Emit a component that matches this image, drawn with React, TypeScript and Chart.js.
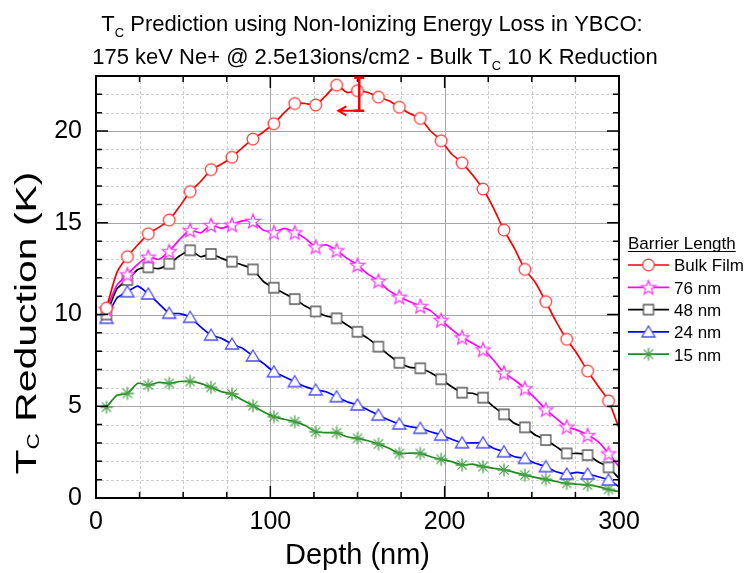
import { useEffect, useRef } from 'react';
import { Chart, registerables } from 'chart.js';

Chart.register(...registerables);

// ---------- data ----------
const DEPTH_NM = [6, 12, 18, 24, 30, 36, 42, 48, 54, 60, 66, 72, 78, 84, 90, 96, 102, 108, 114, 120, 126, 132, 138, 144, 150, 156, 162, 168, 174, 180, 186, 192, 198, 204, 210, 216, 222, 228, 234, 240, 246, 252, 258, 264, 270, 276, 282, 288, 294, 300];

const BULK_FILM = [10.35, 12.3, 13.15, 13.8, 14.4, 14.75, 15.15, 15.9, 16.7, 17.25, 17.9, 18.2, 18.57, 19.1, 19.56, 19.95, 20.4, 21.0, 21.5, 21.5, 21.42, 21.95, 22.5, 22.1, 22.2, 22.1, 21.85, 21.65, 21.3, 20.95, 20.69, 20.0, 19.47, 18.75, 18.27, 17.6, 16.84, 15.8, 14.6, 13.6, 12.46, 11.75, 10.7, 9.6, 8.65, 7.85, 6.92, 6.1, 5.29, 3.8];
const BARRIER_76 = [10.3, 11.6, 12.19, 12.75, 13.15, 13.0, 13.45, 14.1, 14.6, 14.45, 14.88, 14.7, 14.9, 15.1, 15.1, 14.6, 14.48, 14.7, 14.48, 14.15, 13.7, 13.8, 13.5, 13.06, 12.7, 12.2, 11.84, 11.3, 10.97, 10.7, 10.46, 10.2, 9.7, 9.19, 8.76, 8.43, 8.1, 7.52, 6.83, 6.43, 5.98, 5.43, 4.83, 4.34, 3.89, 3.7, 3.43, 3.07, 2.43, 1.7];
const BARRIER_48 = [10.0, 11.4, 11.88, 12.45, 12.57, 12.5, 12.77, 13.2, 13.5, 13.15, 13.3, 13.06, 12.88, 12.7, 12.46, 11.8, 11.46, 11.15, 10.84, 10.46, 10.17, 9.92, 9.79, 9.43, 9.06, 8.7, 8.25, 7.79, 7.37, 7.12, 7.07, 6.83, 6.47, 6.07, 5.74, 5.71, 5.47, 4.98, 4.56, 4.07, 3.85, 3.43, 3.16, 2.8, 2.43, 2.43, 2.34, 1.98, 1.67, 1.07];
const BARRIER_24 = [9.8, 10.9, 11.24, 11.55, 11.12, 10.6, 10.07, 10.05, 9.85, 9.33, 8.88, 8.7, 8.39, 8.16, 7.74, 7.34, 6.88, 6.61, 6.34, 6.07, 5.89, 5.79, 5.52, 5.25, 5.07, 4.8, 4.52, 4.25, 4.03, 3.89, 3.8, 3.61, 3.43, 3.2, 3.01, 3.0, 3.01, 2.71, 2.52, 2.25, 2.16, 1.89, 1.71, 1.43, 1.31, 1.4, 1.31, 1.16, 0.98, 0.62];
const BARRIER_15 = [4.95, 5.6, 5.7, 6.25, 6.15, 6.3, 6.25, 6.35, 6.35, 6.25, 6.03, 5.79, 5.67, 5.34, 5.03, 4.7, 4.43, 4.29, 4.16, 3.95, 3.61, 3.56, 3.56, 3.34, 3.25, 3.12, 2.94, 2.71, 2.43, 2.45, 2.43, 2.25, 2.11, 1.98, 1.8, 1.85, 1.71, 1.62, 1.53, 1.4, 1.25, 1.12, 1.02, 0.9, 0.8, 0.75, 0.71, 0.62, 0.47, 0.34];

const SERIES_LABELS = ['Bulk Film', '76 nm', '48 nm', '24 nm', '15 nm'];
const LEGEND_TITLE = 'Barrier Length';
const X_TICKS = [0, 100, 200, 300];
const Y_TICKS = [0, 5, 10, 15, 20];
const X_MIN = 0;
const X_MAX = 300;
const Y_MIN = 0;
const Y_MAX = 23;
const X_TITLE = 'Depth (nm)';
const Y_TITLE = [{ text: 'T' }, { text: 'C', sub: true }, { text: ' Reduction (K)' }];
const TITLE_LINE_1 = [{ text: 'T' }, { text: 'C', sub: true }, { text: ' Prediction using Non-Ionizing Energy Loss in YBCO:' }];
const TITLE_LINE_2 = [{ text: '175 keV Ne+ @ 2.5e13ions/cm2 - Bulk T' }, { text: 'C', sub: true }, { text: ' 10 K Reduction' }];

// error bar annotation (data units)
const ERRBAR_DEPTH = 151;
const ERRBAR_LOW = 21.1;
const ERRBAR_HIGH = 22.9;
const ARROW_TO_DEPTH = 139;

// ---------- styles ----------
const FONT = '"Liberation Sans", Arial, Helvetica, sans-serif';
const STYLES = [
  { line: '#ff0000', marker: 'circle', edge: '#ff3a3a' },
  { line: '#ff00ff', marker: 'star', edge: '#ff3cff' },
  { line: '#000000', marker: 'square', edge: '#555555' },
  { line: '#0000ff', marker: 'triangle', edge: '#4a4aff' },
  { line: '#1f8a1f', marker: 'asterisk', edge: '#4aa04a' },
];

type Seg = { text: string; sub?: boolean };

function makeMarker(kind: string, stroke: string): HTMLCanvasElement {
  const c = document.createElement('canvas');
  const s = 18;
  c.width = s;
  c.height = s;
  const g = c.getContext('2d')!;
  g.translate(s / 2, s / 2);
  g.lineWidth = 1.3;
  g.strokeStyle = stroke;
  g.fillStyle = '#ffffff';
  g.beginPath();
  if (kind === 'circle') {
    g.arc(0, 0, 5.8, 0, Math.PI * 2);
  } else if (kind === 'star') {
    for (let i = 0; i < 10; i++) {
      const r = i % 2 === 0 ? 7.4 : 3.2;
      const a = -Math.PI / 2 + (i * Math.PI) / 5;
      const px = r * Math.cos(a);
      const py = r * Math.sin(a) + 0.7;
      if (i === 0) g.moveTo(px, py);
      else g.lineTo(px, py);
    }
    g.closePath();
  } else if (kind === 'square') {
    g.rect(-5, -5, 10, 10);
  } else if (kind === 'triangle') {
    g.moveTo(0, -6);
    g.lineTo(6.6, 5);
    g.lineTo(-6.6, 5);
    g.closePath();
  } else if (kind === 'asterisk') {
    for (let k = 0; k < 4; k++) {
      const a = (k * Math.PI) / 4;
      g.moveTo(-6.5 * Math.cos(a), -6.5 * Math.sin(a));
      g.lineTo(6.5 * Math.cos(a), 6.5 * Math.sin(a));
    }
    g.stroke();
    return c;
  }
  g.fill();
  g.stroke();
  return c;
}

function drawRich(ctx: CanvasRenderingContext2D, segs: Seg[], x: number, y: number, size: number, subSize: number, subDy: number) {
  const widths = segs.map((s) => {
    ctx.font = `${s.sub ? subSize : size}px ${FONT}`;
    return ctx.measureText(s.text).width;
  });
  const total = widths.reduce((a, b) => a + b, 0);
  let cx = x - total / 2;
  ctx.textAlign = 'left';
  ctx.textBaseline = 'alphabetic';
  segs.forEach((s, i) => {
    ctx.font = `${s.sub ? subSize : size}px ${FONT}`;
    ctx.fillText(s.text, cx, s.sub ? y + subDy : y);
    cx += widths[i];
  });
  return total;
}

export default function App() {
  const ref = useRef<HTMLCanvasElement>(null);

  useEffect(() => {
    const markers = STYLES.map((s) => makeMarker(s.marker, s.edge));
    const seriesValues = [BULK_FILM, BARRIER_76, BARRIER_48, BARRIER_24, BARRIER_15];

    const decorPlugin = {
      id: 'decor',
      beforeDatasetsDraw(chart: any) {
        const { ctx, chartArea: a, scales } = chart;
        const xs = scales.x;
        const ys = scales.y;
        ctx.save();
        ctx.strokeStyle = '#cfcfcf';
        ctx.lineWidth = 1;
        ctx.setLineDash([3, 2]);
        for (let v = X_MIN; v <= X_MAX; v += 25) {
          if (v % 100 === 0) continue;
          const px = Math.round(xs.getPixelForValue(v)) + 0.5;
          ctx.beginPath();
          ctx.moveTo(px, a.top);
          ctx.lineTo(px, a.bottom);
          ctx.stroke();
        }
        for (let v = Y_MIN; v <= Y_MAX; v += 1) {
          if (v % 5 === 0) continue;
          const py = Math.round(ys.getPixelForValue(v)) + 0.5;
          ctx.beginPath();
          ctx.moveTo(a.left, py);
          ctx.lineTo(a.right, py);
          ctx.stroke();
        }
        ctx.setLineDash([]);
        ctx.strokeStyle = '#a6a6a6';
        X_TICKS.forEach((v) => {
          const px = Math.round(xs.getPixelForValue(v)) + 0.5;
          ctx.beginPath();
          ctx.moveTo(px, a.top);
          ctx.lineTo(px, a.bottom);
          ctx.stroke();
        });
        Y_TICKS.forEach((v) => {
          const py = Math.round(ys.getPixelForValue(v)) + 0.5;
          ctx.beginPath();
          ctx.moveTo(a.left, py);
          ctx.lineTo(a.right, py);
          ctx.stroke();
        });
        ctx.restore();
      },
      afterDraw(chart: any) {
        const { ctx, chartArea: a, scales } = chart;
        const xs = scales.x;
        const ys = scales.y;
        ctx.save();
        ctx.strokeStyle = '#000';
        ctx.lineWidth = 2;
        ctx.strokeRect(a.left, a.top, a.right - a.left, a.bottom - a.top);
        ctx.lineWidth = 1.5;
        for (let v = X_MIN; v <= X_MAX; v += 25) {
          const len = v % 100 === 0 ? 12 : 6;
          const px = xs.getPixelForValue(v);
          ctx.beginPath();
          ctx.moveTo(px, a.bottom);
          ctx.lineTo(px, a.bottom - len);
          ctx.moveTo(px, a.top);
          ctx.lineTo(px, a.top + len);
          ctx.stroke();
        }
        for (let v = Y_MIN; v <= Y_MAX; v += 1) {
          const len = v % 5 === 0 ? 12 : 6;
          const py = ys.getPixelForValue(v);
          ctx.beginPath();
          ctx.moveTo(a.left, py);
          ctx.lineTo(a.left + len, py);
          ctx.moveTo(a.right, py);
          ctx.lineTo(a.right - len, py);
          ctx.stroke();
        }
        // error bar with arrow
        ctx.strokeStyle = '#ff0000';
        ctx.lineWidth = 2.5;
        const ex = xs.getPixelForValue(ERRBAR_DEPTH);
        const eyl = ys.getPixelForValue(ERRBAR_LOW);
        const eyh = ys.getPixelForValue(ERRBAR_HIGH);
        ctx.beginPath();
        ctx.moveTo(ex, eyl);
        ctx.lineTo(ex, eyh);
        ctx.moveTo(ex - 5, eyl);
        ctx.lineTo(ex + 5, eyl);
        ctx.moveTo(ex - 5, eyh);
        ctx.lineTo(ex + 5, eyh);
        ctx.stroke();
        const ax = xs.getPixelForValue(ARROW_TO_DEPTH);
        ctx.lineWidth = 2;
        ctx.beginPath();
        ctx.moveTo(ex, eyl);
        ctx.lineTo(ax, eyl);
        ctx.moveTo(ax + 8, eyl - 4.5);
        ctx.lineTo(ax, eyl);
        ctx.lineTo(ax + 8, eyl + 4.5);
        ctx.stroke();

        // titles
        ctx.fillStyle = '#000';
        drawRich(ctx, TITLE_LINE_1, 372, 31, 22, 13, 6);
        drawRich(ctx, TITLE_LINE_2, 375, 64, 22, 13, 6);
        ctx.font = `29px ${FONT}`;
        ctx.textAlign = 'center';
        ctx.textBaseline = 'alphabetic';
        ctx.fillText(X_TITLE, (a.left + a.right) / 2, 564);

        ctx.save();
        ctx.translate(36, 323);
        ctx.rotate(-Math.PI / 2);
        let w = 0;
        Y_TITLE.forEach((s) => {
          ctx.font = `${s.sub ? 16 : 29}px ${FONT}`;
          w += ctx.measureText(s.text).width;
        });
        ctx.scale(303 / w, 1);
        drawRich(ctx, Y_TITLE, 0, 0, 29, 16, 3);
        ctx.restore();

        // legend
        const lx0 = 628;
        const lx1 = 669;
        ctx.font = `17px ${FONT}`;
        ctx.textAlign = 'left';
        ctx.textBaseline = 'alphabetic';
        ctx.fillStyle = '#000';
        ctx.fillText(LEGEND_TITLE, lx0, 249);
        const tw = ctx.measureText(LEGEND_TITLE).width;
        ctx.strokeStyle = '#000';
        ctx.lineWidth = 1;
        ctx.beginPath();
        ctx.moveTo(lx0, 251.5);
        ctx.lineTo(lx0 + tw, 251.5);
        ctx.stroke();
        SERIES_LABELS.forEach((lab, i) => {
          const cy = 265 + i * 22.3;
          ctx.strokeStyle = STYLES[i].line;
          ctx.lineWidth = 1.7;
          ctx.beginPath();
          ctx.moveTo(lx0, cy);
          ctx.lineTo(lx1, cy);
          ctx.stroke();
          const m = markers[i];
          ctx.drawImage(m, 648.5 - m.width / 2, cy - m.height / 2);
          ctx.fillStyle = '#000';
          ctx.fillText(lab, 674, cy + 6.3);
        });
        ctx.restore();
      },
    };

    const chart = new Chart(ref.current!, {
      type: 'line',
      data: {
        datasets: seriesValues.map((vals, i) => ({
          label: SERIES_LABELS[i],
          data: DEPTH_NM.map((x, j) => ({ x, y: vals[j] })),
          borderColor: STYLES[i].line,
          borderWidth: 1.7,
          backgroundColor: '#ffffff',
          pointStyle: markers[i],
          pointRadius: (c: any) => (c.dataIndex % 2 === 0 && c.dataIndex < DEPTH_NM.length - 1 ? 6 : 0),
          pointHoverRadius: 0,
          tension: 0.2,
          fill: false,
        })),
      },
      options: {
        animation: false,
        responsive: true,
        maintainAspectRatio: false,
        events: [],
        layout: { padding: { top: 76, right: 130, left: 0, bottom: 0 } },
        plugins: {
          legend: { display: false },
          title: { display: false },
          tooltip: { enabled: false },
        },
        scales: {
          x: {
            type: 'linear',
            min: X_MIN,
            max: X_MAX,
            afterBuildTicks: (s: any) => {
              s.ticks = X_TICKS.map((v) => ({ value: v }));
            },
            afterFit: (s: any) => {
              s.height = 75;
            },
            ticks: {
              font: { size: 25, family: FONT },
              color: '#000',
              padding: 9,
              maxRotation: 0,
              autoSkip: false,
            },
            grid: { display: false, drawTicks: false },
            border: { display: false },
          },
          y: {
            type: 'linear',
            min: Y_MIN,
            max: Y_MAX,
            afterBuildTicks: (s: any) => {
              s.ticks = Y_TICKS.map((v) => ({ value: v }));
            },
            afterFit: (s: any) => {
              s.width = 96;
            },
            ticks: {
              font: { size: 25, family: FONT },
              color: '#000',
              padding: 14,
              autoSkip: false,
            },
            grid: { display: false, drawTicks: false },
            border: { display: false },
          },
        },
      },
      plugins: [decorPlugin],
    } as any);

    return () => chart.destroy();
  }, []);

  return (
    <div style={{ position: 'fixed', left: 0, top: 0, width: 749, height: 573, background: '#ffffff' }}>
      <canvas ref={ref} />
    </div>
  );
}
